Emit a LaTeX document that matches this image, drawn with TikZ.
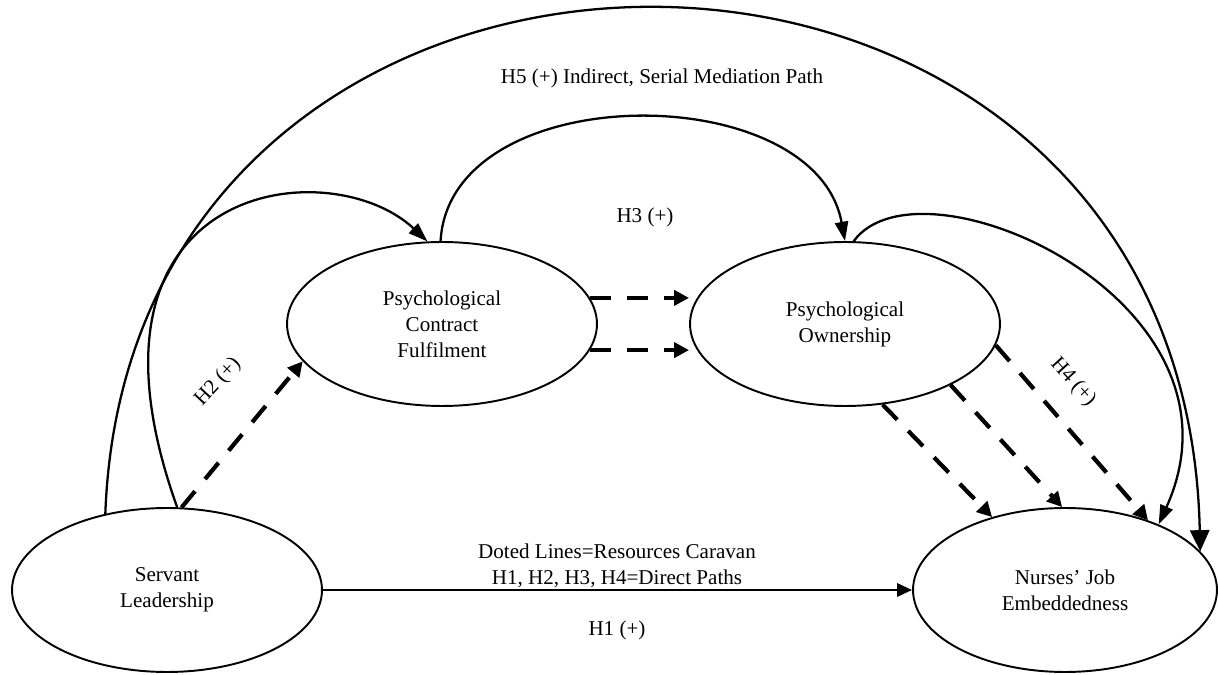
\documentclass[tikz,border=0pt]{standalone}
\usepackage{fontspec}
\setmainfont{Liberation Serif}
\usetikzlibrary{arrows.meta,shapes.geometric}

\begin{document}
\begin{tikzpicture}[x=0.02cm, y=-0.02cm, font=\fontsize{12}{14.8}\selectfont,
  construct/.style={draw, ellipse, line width=1.1pt, inner sep=0pt, align=center,
    minimum width=6.2cm, minimum height=3.28cm},
  direct/.style={line width=1.5pt, -{Triangle[length=8.5pt,width=7.5pt]}},
  curved/.style={line width=1.3pt, -{Triangle[length=11pt,width=7.5pt]}},
  caravan/.style={line width=2.4pt, dash pattern=on 12pt off 9pt,
    -{Triangle[length=8.5pt,width=8.5pt]}}]
  \useasboundingbox (0,0) rectangle (1218,675);
  \node[construct] (sl) at (167,590) {Servant\\Leadership};
  \node[construct] (pcf) at (442,324) {Psychological\\Contract\\Fulfilment};
  \node[construct] (po) at (845,324) {Psychological\\Ownership};
  \node[construct, minimum width=6.08cm] (nje) at (1065,590) {Nurses' Job\\Embeddedness};
  \draw[direct] (sl.east) -- (nje.west);
  \draw[curved, -{Triangle[length=12pt,width=11pt]}]
    (sl.129) .. controls (130,-165) and (1185,-165) .. (nje.16);
  \draw[curved] (sl.83) .. controls (60,180) and (330,150) .. (pcf.100);
  \draw[curved] (pcf.91) .. controls (450,77) and (815,77) .. (po.north);
  \draw[curved] (po.84) .. controls (920,150) and (1260,300) .. (nje.35);
  \draw[caravan] (sl.80) -- (pcf.195);
  \draw[caravan] (pcf.10) -- (pcf.10 -| po.west);
  \draw[caravan] (pcf.-10) -- (pcf.-10 -| po.west);
  \draw[caravan] (po.-65) -- (nje.135);
  \draw[caravan] (po.-30) -- (nje.92);
  \draw[caravan] (po.-8) -- (nje.40);
  \node (h5) at (662,78) {H5 (+) Indirect, Serial Mediation Path};
  \node (h3) at (645,217) {H3 (+)};
  \node[rotate=47] (h2) at (218,382) {H2 (+)};
  \node[rotate=-48] (h4) at (1073,382) {H4 (+)};
  \node[align=center] (note) at (617,566)
    {Doted Lines=Resources Caravan\\H1, H2, H3, H4=Direct Paths};
  \node (h1) at (617,630) {H1 (+)};
\end{tikzpicture}
\end{document}
